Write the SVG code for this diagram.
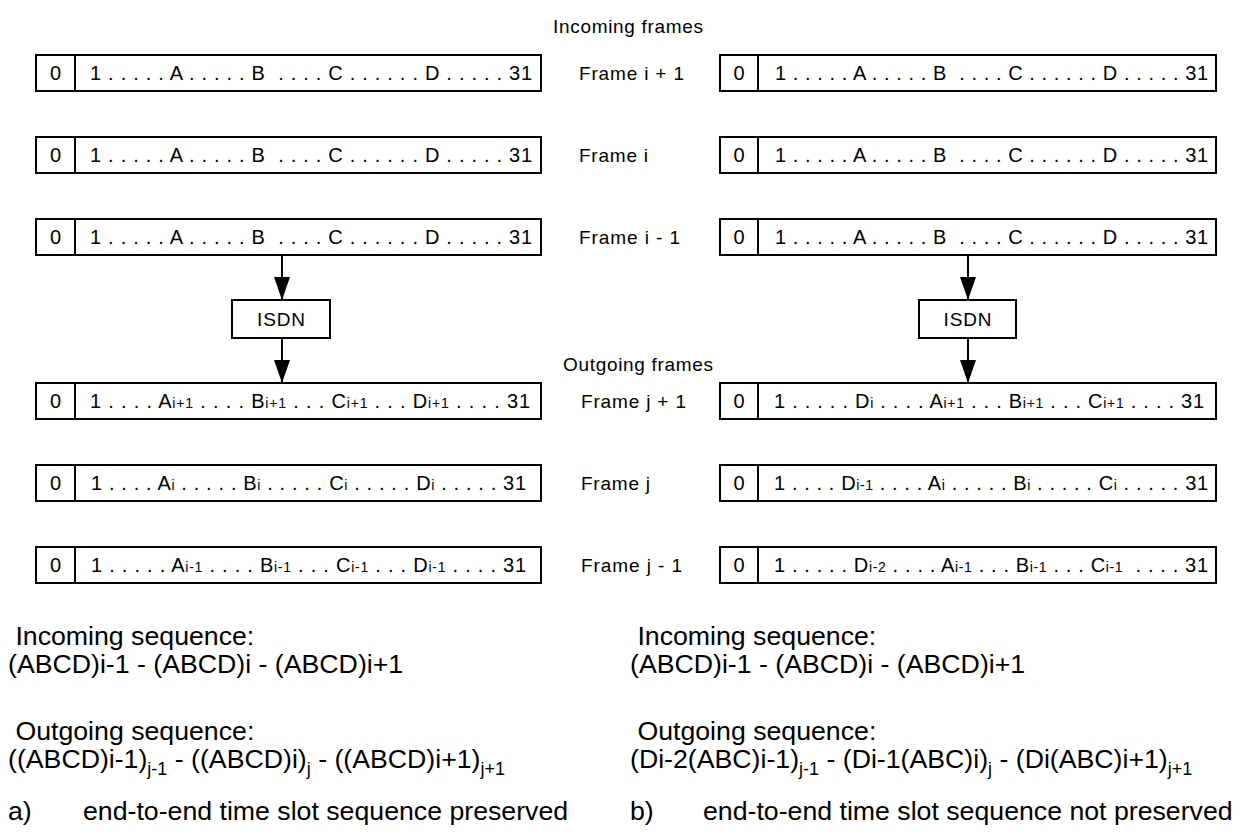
<svg xmlns="http://www.w3.org/2000/svg" width="1241" height="835" viewBox="0 0 1241 835">
<style>
.bx{fill:#fff;stroke:#000;stroke-width:2}
.dv{stroke:#000;stroke-width:2}
.bt{font-family:"Liberation Sans Narrow","Liberation Sans",Arial,sans-serif;font-size:20px;fill:#000}
.sm{font-size:14px}
.lb{font-family:"Liberation Sans Narrow","Liberation Sans",Arial,sans-serif;font-size:19px;fill:#000}
.big{font-family:"Liberation Sans",Arial,sans-serif;font-size:26.7px;fill:#000}
.sub{font-size:18px}
.cn{stroke:#000;stroke-width:2;fill:none}
</style>
<defs>
<marker id="ah" viewBox="0 0 23 16" refX="23" refY="8" markerWidth="23" markerHeight="16" orient="auto" markerUnits="userSpaceOnUse"><path d="M0,0 L23,8 L0,16 z" fill="#000"/></marker>
</defs>
<rect width="1241" height="835" fill="#fff"/>

<text class="lb" x="553" y="33" textLength="150" lengthAdjust="spacing">Incoming frames</text>
<text class="lb" x="563" y="371" textLength="150" lengthAdjust="spacing">Outgoing frames</text>

<text class="lb" x="579" y="80" textLength="105" lengthAdjust="spacing" xml:space="preserve">Frame i + 1</text>
<text class="lb" x="579" y="162" textLength="69" lengthAdjust="spacing">Frame i</text>
<text class="lb" x="579" y="244" textLength="101" lengthAdjust="spacing" xml:space="preserve">Frame i - 1</text>
<text class="lb" x="581" y="408" textLength="105" lengthAdjust="spacing" xml:space="preserve">Frame j + 1</text>
<text class="lb" x="581" y="490" textLength="69" lengthAdjust="spacing">Frame j</text>
<text class="lb" x="581" y="572" textLength="101" lengthAdjust="spacing" xml:space="preserve">Frame j - 1</text>

<g id="in-left-1"><rect class="bx" x="36" y="55" width="505" height="36"/><line class="dv" x1="75" y1="55" x2="75" y2="91"/><text class="bt" x="55.5" y="80" text-anchor="middle">0</text><text class="bt" x="90" y="80" textLength="442" lengthAdjust="spacing" xml:space="preserve">1 . . . . . A . . . . . B  . . . . C . . . . . . D . . . . . 31</text></g>
<g id="in-left-2"><rect class="bx" x="36" y="137" width="505" height="36"/><line class="dv" x1="75" y1="137" x2="75" y2="173"/><text class="bt" x="55.5" y="162" text-anchor="middle">0</text><text class="bt" x="90" y="162" textLength="442" lengthAdjust="spacing" xml:space="preserve">1 . . . . . A . . . . . B  . . . . C . . . . . . D . . . . . 31</text></g>
<g id="in-left-3"><rect class="bx" x="36" y="219" width="505" height="36"/><line class="dv" x1="75" y1="219" x2="75" y2="255"/><text class="bt" x="55.5" y="244" text-anchor="middle">0</text><text class="bt" x="90" y="244" textLength="442" lengthAdjust="spacing" xml:space="preserve">1 . . . . . A . . . . . B  . . . . C . . . . . . D . . . . . 31</text></g>

<g id="in-right-1"><rect class="bx" x="720" y="55" width="496" height="36"/><line class="dv" x1="758" y1="55" x2="758" y2="91"/><text class="bt" x="739" y="80" text-anchor="middle">0</text><text class="bt" x="775" y="80" textLength="433" lengthAdjust="spacing" xml:space="preserve">1 . . . . . A . . . . . B  . . . . C . . . . . . D . . . . . 31</text></g>
<g id="in-right-2"><rect class="bx" x="720" y="137" width="496" height="36"/><line class="dv" x1="758" y1="137" x2="758" y2="173"/><text class="bt" x="739" y="162" text-anchor="middle">0</text><text class="bt" x="775" y="162" textLength="433" lengthAdjust="spacing" xml:space="preserve">1 . . . . . A . . . . . B  . . . . C . . . . . . D . . . . . 31</text></g>
<g id="in-right-3"><rect class="bx" x="720" y="219" width="496" height="36"/><line class="dv" x1="758" y1="219" x2="758" y2="255"/><text class="bt" x="739" y="244" text-anchor="middle">0</text><text class="bt" x="775" y="244" textLength="433" lengthAdjust="spacing" xml:space="preserve">1 . . . . . A . . . . . B  . . . . C . . . . . . D . . . . . 31</text></g>

<g id="isdn-left"><rect class="bx" x="232" y="300" width="98" height="38"/><text class="lb" x="281" y="326" text-anchor="middle" textLength="48" lengthAdjust="spacing">ISDN</text></g>
<g id="isdn-right"><rect class="bx" x="919" y="300" width="97" height="38"/><text class="lb" x="967.5" y="326" text-anchor="middle" textLength="48" lengthAdjust="spacing">ISDN</text></g>

<g id="out-left-1"><rect class="bx" x="36" y="383" width="505" height="36"/><line class="dv" x1="75" y1="383" x2="75" y2="419"/><text class="bt" x="55.5" y="408" text-anchor="middle">0</text><text class="bt" x="90" y="408" textLength="440" lengthAdjust="spacing" xml:space="preserve">1 . . . . A<tspan class="sm">i+1</tspan> . . . . B<tspan class="sm">i+1</tspan> . . . C<tspan class="sm">i+1</tspan> . . . D<tspan class="sm">i+1</tspan> . . . . 31</text></g>
<g id="out-left-2"><rect class="bx" x="36" y="465" width="505" height="36"/><line class="dv" x1="75" y1="465" x2="75" y2="501"/><text class="bt" x="55.5" y="490" text-anchor="middle">0</text><text class="bt" x="91" y="490" textLength="435" lengthAdjust="spacing" xml:space="preserve">1 . . . . A<tspan class="sm">i</tspan> . . . . . B<tspan class="sm">i</tspan> . . . . . C<tspan class="sm">i</tspan> . . . . . D<tspan class="sm">i</tspan> . . . . . 31</text></g>
<g id="out-left-3"><rect class="bx" x="36" y="547" width="505" height="36"/><line class="dv" x1="75" y1="547" x2="75" y2="583"/><text class="bt" x="55.5" y="572" text-anchor="middle">0</text><text class="bt" x="91" y="572" textLength="435" lengthAdjust="spacing" xml:space="preserve">1 . . . . . A<tspan class="sm">i-1</tspan> . . . . B<tspan class="sm">i-1</tspan> . . . C<tspan class="sm">i-1</tspan> . . . D<tspan class="sm">i-1</tspan> . . . . 31</text></g>

<g id="out-right-1"><rect class="bx" x="720" y="383" width="496" height="36"/><line class="dv" x1="758" y1="383" x2="758" y2="419"/><text class="bt" x="739" y="408" text-anchor="middle">0</text><text class="bt" x="774" y="408" textLength="430" lengthAdjust="spacing" xml:space="preserve">1 . . . . . D<tspan class="sm">i</tspan> . . . . A<tspan class="sm">i+1</tspan> . . . B<tspan class="sm">i+1</tspan> . . . C<tspan class="sm">i+1</tspan> . . . . 31</text></g>
<g id="out-right-2"><rect class="bx" x="720" y="465" width="496" height="36"/><line class="dv" x1="758" y1="465" x2="758" y2="501"/><text class="bt" x="739" y="490" text-anchor="middle">0</text><text class="bt" x="774" y="490" textLength="434" lengthAdjust="spacing" xml:space="preserve">1 . . . . D<tspan class="sm">i-1</tspan> . . . . A<tspan class="sm">i</tspan> . . . . . B<tspan class="sm">i</tspan> . . . . . C<tspan class="sm">i</tspan> . . . . . 31</text></g>
<g id="out-right-3"><rect class="bx" x="720" y="547" width="496" height="36"/><line class="dv" x1="758" y1="547" x2="758" y2="583"/><text class="bt" x="739" y="572" text-anchor="middle">0</text><text class="bt" x="774" y="572" textLength="434" lengthAdjust="spacing" xml:space="preserve">1 . . . . . D<tspan class="sm">i-2</tspan> . . . . A<tspan class="sm">i-1</tspan> . . . B<tspan class="sm">i-1</tspan> . . . C<tspan class="sm">i-1</tspan>  . . . . 31</text></g>

<g id="connectors">
<line class="cn" x1="282" y1="255" x2="282" y2="300" marker-end="url(#ah)"/>
<line class="cn" x1="282" y1="338" x2="282" y2="383" marker-end="url(#ah)"/>
<line class="cn" x1="968" y1="255" x2="968" y2="300" marker-end="url(#ah)"/>
<line class="cn" x1="968" y1="338" x2="968" y2="383" marker-end="url(#ah)"/>
</g>

<g id="caption-left">
<text class="big" x="8" y="645" xml:space="preserve"> Incoming sequence:</text>
<text class="big" x="8" y="673">(ABCD)i-1 - (ABCD)i - (ABCD)i+1</text>
<text class="big" x="8" y="740" xml:space="preserve"> Outgoing sequence:</text>
<text class="big" x="8" y="768" xml:space="preserve">((ABCD)i-1)<tspan class="sub" dy="7">j-1</tspan><tspan dy="-7"> - ((ABCD)i)</tspan><tspan class="sub" dy="7">j</tspan><tspan dy="-7"> - ((ABCD)i+1)</tspan><tspan class="sub" dy="7">j+1</tspan></text>
<text class="big" x="8" y="820">a)</text>
<text class="big" x="83" y="820">end-to-end time slot sequence preserved</text>
</g>
<g id="caption-right">
<text class="big" x="630" y="645" xml:space="preserve"> Incoming sequence:</text>
<text class="big" x="630" y="673">(ABCD)i-1 - (ABCD)i - (ABCD)i+1</text>
<text class="big" x="630" y="740" xml:space="preserve"> Outgoing sequence:</text>
<text class="big" x="630" y="768" xml:space="preserve">(Di-2(ABC)i-1)<tspan class="sub" dy="7">j-1</tspan><tspan dy="-7"> - (Di-1(ABC)i)</tspan><tspan class="sub" dy="7">j</tspan><tspan dy="-7"> - (Di(ABC)i+1)</tspan><tspan class="sub" dy="7">j+1</tspan></text>
<text class="big" x="630" y="820">b)</text>
<text class="big" x="703" y="820">end-to-end time slot sequence not preserved</text>
</g>
</svg>
